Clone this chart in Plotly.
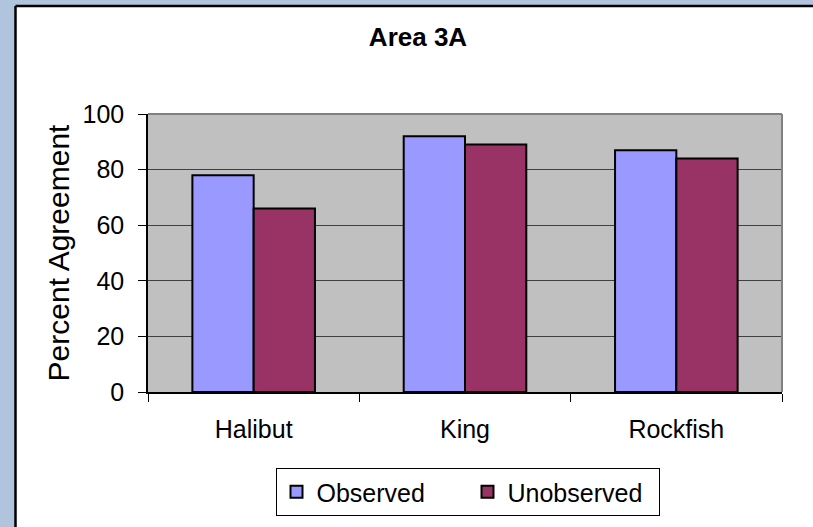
import plotly.graph_objects as go

species = ["Halibut", "King", "Rockfish"]
observed = [78, 92, 87]
unobserved = [66, 89, 84]
y_ticks = [0, 20, 40, 60, 80, 100]

W, H = 813, 527
L, R, T, B = 148, 31, 114, 134
pw, ph = W - L - R, H - T - B


def px_x(x):
    return (x - L) / pw


def px_y(y):
    return (H - B - y) / ph


fig = go.Figure()
fig.add_trace(go.Bar(x=species, y=observed, name="Observed",
                     marker=dict(color="#9999FF", line=dict(color="black", width=2))))
fig.add_trace(go.Bar(x=species, y=unobserved, name="Unobserved",
                     marker=dict(color="#993366", line=dict(color="black", width=2))))

shapes = [
    # blue frame outside the white chart panel
    dict(type="rect", xref="paper", yref="paper", x0=px_x(-5), x1=px_x(15.5),
         y0=px_y(H + 5), y1=px_y(-5), fillcolor="#B0C4DE", line=dict(width=0)),
    dict(type="rect", xref="paper", yref="paper", x0=px_x(-5), x1=px_x(W + 5),
         y0=px_y(5.5), y1=px_y(-5), fillcolor="#B0C4DE", line=dict(width=0)),
    dict(type="line", xref="paper", yref="paper", x0=px_x(15.5), x1=px_x(15.5),
         y0=px_y(5.5), y1=px_y(H + 5), line=dict(color="black", width=2.5)),
    dict(type="line", xref="paper", yref="paper", x0=px_x(15.5), x1=px_x(W + 5),
         y0=px_y(5.5), y1=px_y(5.5), line=dict(color="black", width=2.5)),
    # gray top / right border of plot area
    dict(type="line", xref="paper", yref="paper", x0=0, x1=1, y0=1, y1=1,
         line=dict(color="#808080", width=2)),
    dict(type="line", xref="paper", yref="paper", x0=1, x1=1, y0=0, y1=1,
         line=dict(color="#808080", width=2)),
]

fig.update_layout(
    width=W, height=H,
    margin=dict(l=L, r=R, t=T, b=B),
    paper_bgcolor="white",
    plot_bgcolor="#C0C0C0",
    font=dict(family="Liberation Sans, Arial, sans-serif", size=25, color="black"),
    title=dict(text="<b>Area 3A</b>", xref="container", yref="container",
               x=418 / W, y=1 - 37 / H, xanchor="center", yanchor="middle",
               font=dict(size=26)),
    barmode="group", bargap=0.42, bargroupgap=0,
    showlegend=True,
    legend=dict(orientation="h", x=px_x(467.5), y=px_y(492), xanchor="center",
                yanchor="middle", bordercolor="black", borderwidth=1,
                bgcolor="white", font=dict(size=25), entrywidth=146),
    shapes=shapes,
)
fig.update_xaxes(showline=True, linecolor="black", linewidth=1.5, ticks="outside",
                 tickson="boundaries", ticklen=8, tickcolor="black", showgrid=False,
                 ticklabelstandoff=14)
fig.update_yaxes(range=[0, 100], tickvals=y_ticks, showline=True, linecolor="black",
                 linewidth=1.5, ticks="outside", ticklen=8, tickcolor="black",
                 gridcolor="#404040", gridwidth=1, zeroline=False,
                 ticklabelstandoff=9,
                 title=dict(text="Percent Agreement", standoff=4))

fig.write_html("out.html", config={"displayModeBar": False},
               post_script="document.body.style.margin = '0';")
